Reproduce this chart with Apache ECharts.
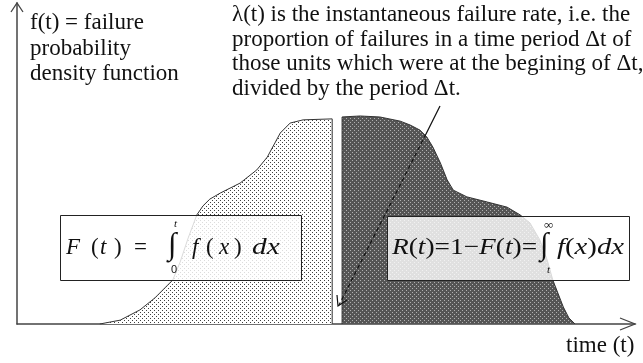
<!DOCTYPE html>
<html><head><meta charset="utf-8">
<script src="https://cdn.jsdelivr.net/npm/echarts@6/dist/echarts.min.js"></script>
<style>html,body{margin:0;padding:0;background:#fff}#c{width:643px;height:363px}</style>
</head><body><div id="c"></div>
<script>
// time values and density values (arbitrary units)
var failedTime = [1.34,1.67,1.99,2.23,2.52,2.64,2.77,2.91,3.01,3.12,3.29,3.61,3.88,4.05,4.26,4.42,4.63,5.10,5.10];
var failedDensity = [0,0.012,0.044,0.081,0.137,0.193,0.268,0.340,0.368,0.389,0.408,0.439,0.480,0.520,0.595,0.626,0.636,0.639,0];
var survivTime = [5.26,5.26,5.55,5.87,6.20,6.36,6.52,6.63,6.73,6.85,6.96,7.06,7.28,7.61,7.93,8.14,8.30,8.46,8.58,8.67,8.84,8.93,9.03];
var survivDensity = [0,0.645,0.648,0.645,0.632,0.620,0.604,0.583,0.551,0.502,0.449,0.417,0.396,0.380,0.364,0.340,0.315,0.262,0.199,0.137,0.053,0.019,0];
var leftLabel = ['f(t) = failure','probability','density function'];
var noteLines = ['λ(t) is the instantaneous failure rate, i.e. the','proportion of failures in a time period Δt of','those units which were at the begining of Δt,','divided by the period Δt.'];
var xName = 'time (t)';

function pattern(size, base, dot, pts){
  var c=document.createElement('canvas');c.width=size;c.height=size;
  var g=c.getContext('2d');g.fillStyle=base;g.fillRect(0,0,size,size);
  g.fillStyle=dot;pts.forEach(function(p){g.fillRect(p[0],p[1],1,1);});
  return {image:c,repeat:'repeat'};
}
var lightPat = pattern(4,'#ffffff','#404040',[[0,0],[2,2]]);
var darkPat = pattern(4,'#555555','#b0b0b0',[[0,0],[2,2]]);

function zip(a,b){return a.map(function(v,i){return [v,b[i]];});}
var SERIF='"Liberation Serif","Times New Roman",serif';
function T(text,x,y,size,italic,extra,sx){
  var o={type:'text',z:100,x:x,y:y,scaleX:sx||1,style:{text:text,x:0,y:0,fill:'#111',verticalAlign:'middle',
    font:(italic?'italic ':'')+size+'px '+SERIF}};
  if(extra){for(var k in extra)o.style[k]=extra[k];}
  return o;
}
var g=[];
// axes arrows
g.push({type:'polyline',z:90,shape:{points:[[11,12],[17,3],[23,12]]},style:{stroke:'#444',lineWidth:1.3,fill:null}});
g.push({type:'polyline',z:90,shape:{points:[[620,318],[635,324],[620,330]]},style:{stroke:'#444',lineWidth:1.3,fill:null}});
// texts
leftLabel.forEach(function(s,i){g.push(T(s,30,23+i*25.5,23,false));});
noteLines.forEach(function(s,i){g.push(T(s,232,15+i*24.5,23,false));});
g.push(T(xName,566,346,23,false));
// formula boxes
g.push({type:'rect',z:80,shape:{x:60.5,y:215.5,width:241,height:65},style:{fill:'rgba(255,255,255,0.82)',stroke:'#222',lineWidth:1}});
g.push({type:'rect',z:80,shape:{x:387.5,y:216.5,width:242,height:64},style:{fill:'rgba(255,255,255,0.82)',stroke:'#222',lineWidth:1}});
// left formula
var fy=248;
[['F',66,1],['(',91,0],['t',100,1],[')',114,0],['=',134,0],['f',192,1],['(',206,0],['x',219,1],[')',234,0]].forEach(function(p){g.push(T(p[0],p[1],fy,23,p[2]));});
g.push(T('dx',252,fy,23,true,null,1.28));
g.push(T('∫',168,246,31,false));
g.push(T('t',174,224,11,true));
g.push(T('0',171,270,11,false,{font:'11px "Liberation Sans",sans-serif'}));
// right formula
var rich={i:{font:'italic 23px '+SERIF,fill:'#111'},n:{font:'23px '+SERIF,fill:'#111'}};
g.push(T('{i|R}{n|(}{i|t}{n|)=1−}{i|F}{n|(}{i|t}{n|)=}',392,fy,23,false,{rich:rich},1.19));
g.push(T('{i|f}{n|(}{i|x}{n|)}{i|dx}',557,fy,23,false,{rich:rich},1.25));
g.push(T('∫',540,246,31,false));
g.push(T('∞',544,226,13,false));
g.push(T('t',547,270,11,true));
// arrow
g.push({type:'line',z:95,shape:{x1:440,y1:106,x2:426,y2:134},style:{stroke:'#111',lineWidth:1.2}});
g.push({type:'line',z:95,shape:{x1:426,y1:134,x2:339,y2:305},style:{stroke:'#111',lineWidth:1.2,lineDash:[4,3]}});
g.push({type:'polyline',z:95,shape:{points:[[337,295],[338,306],[347,300]]},style:{stroke:'#111',lineWidth:1.2,fill:null}});

var chart=echarts.init(document.getElementById('c'),null,{renderer:'canvas'});
chart.setOption({
  animation:false,
  grid:{left:17,right:8,top:3,bottom:39},
  xAxis:{type:'value',min:0,max:10,axisLine:{lineStyle:{color:'#444',width:1.5}},axisTick:{show:false},axisLabel:{show:false},splitLine:{show:false}},
  yAxis:{type:'value',min:0,max:1,axisLine:{show:true,lineStyle:{color:'#444',width:1.5}},axisTick:{show:false},axisLabel:{show:false},splitLine:{show:false}},
  series:[
    {type:'line',data:zip(failedTime,failedDensity),symbol:'none',smooth:false,lineStyle:{color:'#333',width:1},areaStyle:{color:lightPat,opacity:1},z:2},
    {type:'line',data:zip(survivTime,survivDensity),symbol:'none',smooth:false,lineStyle:{color:'#333',width:1},areaStyle:{color:darkPat,opacity:1},z:2}
  ],
  graphic:g
});
</script></body></html>
